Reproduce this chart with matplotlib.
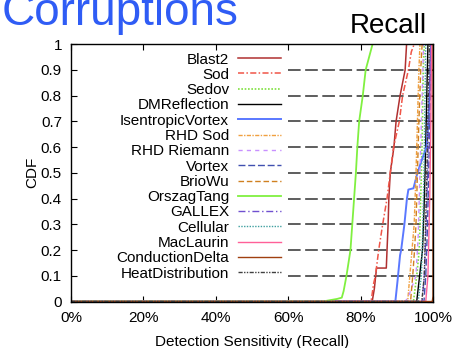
import numpy as np
import matplotlib
matplotlib.use("Agg")
import matplotlib.pyplot as plt

plt.rcParams['font.family'] = ['Liberation Sans', 'DejaVu Sans']

# CDF of detection sensitivity (recall, %) per benchmark
names = ['Blast2', 'Sod', 'Sedov', 'DMReflection', 'IsentropicVortex', 'RHD Sod',
         'RHD Riemann', 'Vortex', 'BrioWu', 'OrszagTang', 'GALLEX', 'Cellular',
         'MacLaurin', 'ConductionDelta', 'HeatDistribution']

blast2_x = [0, 83.2, 83.8, 84.4, 87.1, 87.3, 87.6, 87.8, 88.2, 89.2, 89.8, 90.9, 92.3, 92.7]
blast2_y = [0, 0, 0.05, 0.13, 0.13, 0.2, 0.3, 0.4, 0.5, 0.6, 0.7, 0.8, 0.9, 1.0]
sod_x = [0, 82.9, 83.6, 84.1, 85.0, 86.1, 87.3, 88.2, 89.1, 90.7, 91.6, 93.2, 94.0, 94.8]
sod_y = [0, 0, 0.07, 0.1, 0.2, 0.3, 0.4, 0.5, 0.6, 0.7, 0.8, 0.9, 0.97, 1.0]
sedov_x = [0, 94.6, 95.5, 96.2, 96.5, 96.8, 97.1, 97.3, 97.6]
sedov_y = [0, 0, 0.1, 0.2, 0.35, 0.5, 0.7, 0.9, 1.0]
dmref_x = [0, 95.5, 96.3, 97.1, 97.5, 97.8, 98.2, 98.6]
dmref_y = [0, 0, 0.1, 0.2, 0.35, 0.5, 0.75, 1.0]
isent_x = [0, 89.6, 90.2, 90.9, 91.2, 92.1, 92.8, 93.2, 94.6, 95.7, 96.9, 98.2, 98.6, 99.2, 99.5]
isent_y = [0, 0, 0.08, 0.18, 0.2, 0.3, 0.4, 0.435, 0.44, 0.5, 0.55, 0.6, 0.67, 0.85, 1.0]
rhdsod_x = [0, 93.0, 93.6, 94.2, 94.8, 95.3, 95.6, 95.9, 96.1, 96.4]
rhdsod_y = [0, 0, 0.1, 0.2, 0.3, 0.5, 0.65, 0.8, 0.9, 1.0]
rhdriem_x = [0, 92.4, 93.5, 95.3, 95.9, 96.4, 96.9, 97.4]
rhdriem_y = [0, 0, 0.03, 0.1, 0.25, 0.5, 0.75, 1.0]
vortex_x = [0, 97.5, 98.0, 98.5, 98.8, 99.2, 99.5]
vortex_y = [0, 0, 0.1, 0.3, 0.5, 0.75, 1.0]
briowu_x = [0, 93.8, 94.4, 94.9, 95.3, 95.7, 96.1, 96.6, 97.0]
briowu_y = [0, 0, 0.1, 0.2, 0.3, 0.5, 0.7, 0.9, 1.0]
orszag_x = [0, 69.5, 73.5, 74.8, 75.3, 76.1, 77.2, 77.7, 78.2, 78.7, 79.1, 79.6, 80.6, 81.4, 83.3]
orszag_y = [0, 0, 0.01, 0.015, 0.04, 0.1, 0.2, 0.3, 0.4, 0.5, 0.6, 0.7, 0.8, 0.9, 1.0]
gallex_x = [0, 97.0, 97.6, 98.1, 98.5, 98.9, 99.3]
gallex_y = [0, 0, 0.1, 0.3, 0.5, 0.75, 1.0]
cellular_x = [0, 95.9, 96.8, 97.2, 97.5, 97.8, 98.0]
cellular_y = [0, 0, 0.1, 0.3, 0.5, 0.8, 1.0]
maclaurin_x = [0, 98.0, 98.6, 99.1, 99.4, 99.6]
maclaurin_y = [0, 0, 0.1, 0.4, 0.7, 1.0]
conduction_x = [0, 99.8, 100.0, 100.0]
conduction_y = [0, 0, 0.02, 1.0]
heat_x = [0, 96.9, 97.6, 98.3, 98.7, 99.0]
heat_y = [0, 0, 0.1, 0.5, 0.8, 1.0]

xs = [blast2_x, sod_x, sedov_x, dmref_x, isent_x, rhdsod_x, rhdriem_x, vortex_x,
      briowu_x, orszag_x, gallex_x, cellular_x, maclaurin_x, conduction_x, heat_x]
ys = [blast2_y, sod_y, sedov_y, dmref_y, isent_y, rhdsod_y, rhdriem_y, vortex_y,
      briowu_y, orszag_y, gallex_y, cellular_y, maclaurin_y, conduction_y, heat_y]

colors = ['#b03030', '#f05548', '#80e040', '#000000', '#5a78ff', '#f0a040',
          '#c890ff', '#4050b0', '#d08020', '#80f040', '#7050d0', '#40a0a0',
          '#ff6098', '#a04010', '#404040']
styles = ['-', (0, (4, 1.5, 1, 1.5)), (0, (1, 1)), '-', '-', (0, (3, 1, 1, 1)),
          (0, (3, 3)), (0, (5, 2)), (0, (4, 2)), '-', (0, (5, 2, 1, 2)), (0, (1, 1)),
          '-', '-', (0, (3, 1, 1, 1, 1, 1))]
widths = [1.1, 1.1, 1.2, 1.0, 1.4, 1.0, 1.0, 1.0, 1.0, 1.3, 1.0, 1.0, 1.0, 1.0, 1.0]

xticks = [0, 20, 40, 60, 80, 100]
xticklabels = ['0%', '20%', '40%', '60%', '80%', '100%']
yticks = [0, 0.1, 0.2, 0.3, 0.4, 0.5, 0.6, 0.7, 0.8, 0.9, 1.0]
yticklabels = ['0', '0.1', '0.2', '0.3', '0.4', '0.5', '0.6', '0.7', '0.8', '0.9', '1']

fig = plt.figure(figsize=(4.62, 3.48), dpi=100)
ax = fig.add_axes([71/462, 1-301.5/348, 362/462, 257.3/348])

# grid only right of the key
for g in yticks[1:-1]:
    ax.axhline(g, xmin=0.6, xmax=1.0, color='#505050', lw=1.3,
               dashes=(7, 2.5), zorder=0)

for x, y, c, s, w, n in zip(xs, ys, colors, styles, widths, names):
    ax.plot(x, y, color=c, linestyle=s, lw=w, label=n)

ax.set_xlim(0, 100)
ax.set_ylim(0, 1)
ax.set_xticks(xticks)
ax.set_xticklabels(xticklabels)
ax.set_yticks(yticks)
ax.set_yticklabels(yticklabels)
ax.tick_params(direction='in', top=True, right=True, length=4, width=0.8,
               labelsize=11)
ax.tick_params(axis='y', pad=6.5)
ax.tick_params(axis='x', pad=7)
for sp in ax.spines.values():
    sp.set_linewidth(1.0)

ax.set_xlabel('Detection Sensitivity (Recall)', fontsize=11, labelpad=7)
ax.set_ylabel('CDF', fontsize=11, labelpad=1)

ax.legend(loc='upper right', bbox_to_anchor=(281/462, 1-52.5/348),
          bbox_transform=fig.transFigure, frameon=False, markerfirst=False,
          fontsize=11, handlelength=2.8, handletextpad=0.6, labelspacing=0.085,
          borderpad=0, borderaxespad=0)

fig.text(2/462, 1-25/348, 'Corruptions', fontsize=33, color='#2f5cf5',
         va='baseline', ha='left')
fig.text(350/462, 1-33.3/348, 'Recall', fontsize=20, color='black',
         va='baseline', ha='left')

fig.savefig('out.png', dpi=100)
